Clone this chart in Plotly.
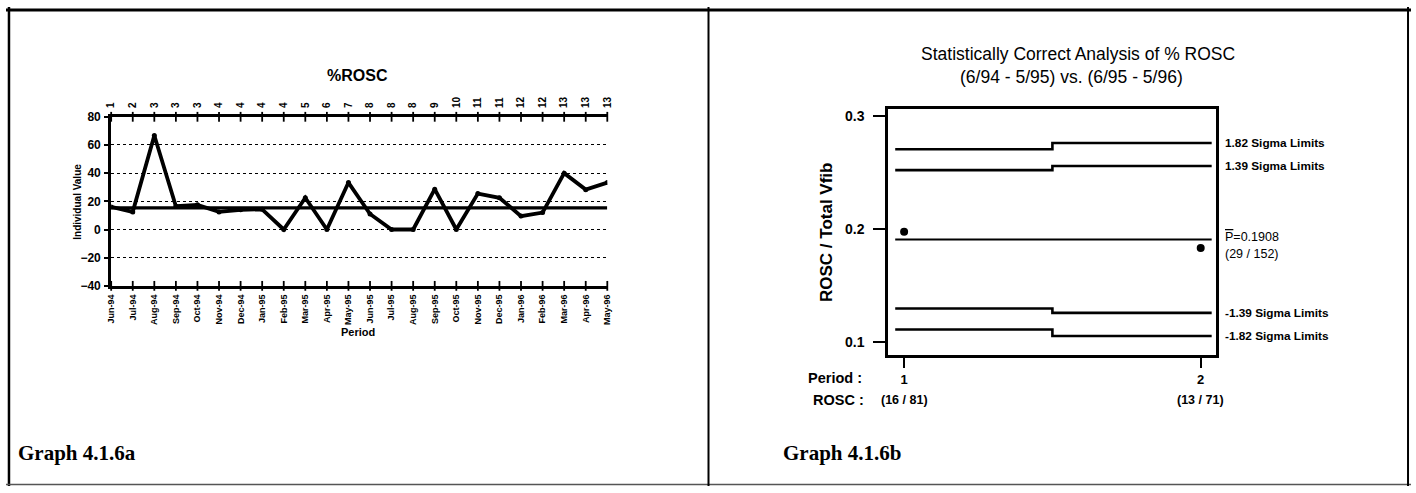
import plotly.graph_objects as go

W, H = 1416, 493

# ---- Graph 4.1.6a : monthly individual values of %ROSC ----
months = ["Jun-94", "Jul-94", "Aug-94", "Sep-94", "Oct-94", "Nov-94", "Dec-94",
          "Jan-95", "Feb-95", "Mar-95", "Apr-95", "May-95", "Jun-95", "Jul-95",
          "Aug-95", "Sep-95", "Oct-95", "Nov-95", "Dec-95", "Jan-96", "Feb-96",
          "Mar-96", "Apr-96", "May-96"]
period_numbers = ["1", "2", "3", "3", "3", "4", "4", "4", "4", "5", "6", "7",
                  "8", "8", "8", "9", "10", "11", "11", "12", "12", "13", "13", "13"]
rosc_pct = [16, 12.5, 66.7, 16.5, 17.5, 12.5, 14, 14.3, 0, 22.5, 0, 33.3,
            11, 0, 0, 28.6, 0, 25.5, 22.5, 9.5, 12, 40, 28.3, 33.3]
center_pct = 15.4
y_ticks_a = [-40, -20, 0, 20, 40, 60, 80]

# ---- Graph 4.1.6b : p-chart of the two yearly periods ----
periods = [1, 2]
period_labels = ["1", "2"]
rosc_counts = ["(16 / 81)", "(13 / 71)"]
p_observed = [0.1975, 0.1831]
p_bar = 0.1908
p_bar_counts = "(29 / 152)"
upper_182 = [0.2705, 0.2760]
upper_139 = [0.2520, 0.2557]
lower_139 = [0.1298, 0.1259]
lower_182 = [0.1112, 0.1055]
limit_sets = [(upper_182, "1.82 Sigma Limits"), (upper_139, "1.39 Sigma Limits"),
              (lower_139, "-1.39 Sigma Limits"), (lower_182, "-1.82 Sigma Limits")]
y_ticks_b = [0.1, 0.2, 0.3]


def fx(px):
    return px / W


def fy(px):
    return 1 - px / H


SANS = "Liberation Sans"
idx = list(range(len(months)))

fig = go.Figure()

# individual values
fig.add_trace(go.Scatter(x=idx, y=rosc_pct, mode="lines+markers",
                         line=dict(color="black", width=3.8),
                         marker=dict(color="black", size=5),
                         xaxis="x", yaxis="y", showlegend=False))
# center line
fig.add_trace(go.Scatter(x=[idx[0], idx[-1]], y=[center_pct, center_pct], mode="lines",
                         line=dict(color="black", width=3.2),
                         xaxis="x", yaxis="y", showlegend=False))
# cross-shaped tick marks on the bottom (x) and top (x2) axis lines
for yv, xa in ((y_ticks_a[0], "x"), (y_ticks_a[-1], "x2")):
    fig.add_trace(go.Scatter(x=idx, y=[yv] * len(idx), mode="markers",
                             marker=dict(symbol="line-ns", size=7,
                                         line=dict(color="black", width=1.8)),
                             cliponaxis=False, xaxis=xa, yaxis="y",
                             showlegend=False, hoverinfo="skip"))

# step control limits for the two periods
step_x = [0.97, 1.5, 2.037]
for vals, _ in limit_sets:
    fig.add_trace(go.Scatter(x=step_x, y=[vals[0], vals[1], vals[1]], mode="lines",
                             line=dict(color="black", width=2.6, shape="hv"),
                             xaxis="x3", yaxis="y3", showlegend=False))
fig.add_trace(go.Scatter(x=[step_x[0], step_x[-1]], y=[p_bar, p_bar], mode="lines",
                         line=dict(color="black", width=2),
                         xaxis="x3", yaxis="y3", showlegend=False))
fig.add_trace(go.Scatter(x=periods, y=p_observed, mode="markers",
                         marker=dict(color="black", size=8),
                         xaxis="x3", yaxis="y3", showlegend=False))

month_font = dict(family=SANS, size=9, color="black", weight="bold")
period_font = dict(family=SANS, size=10, color="black", weight="bold")

fig.update_layout(
    width=W, height=H,
    margin=dict(l=0, r=0, t=0, b=0),
    paper_bgcolor="white", plot_bgcolor="rgba(0,0,0,0)",
    font=dict(family=SANS, color="black"),
    xaxis=dict(domain=[fx(106), fx(606)], range=[0, 23], anchor="y",
               tickmode="array", tickvals=idx, ticktext=months, tickangle=-90,
               tickfont=month_font, ticks="", showline=True, linecolor="black",
               linewidth=3, showgrid=False, zeroline=False, ticklabelstandoff=2),
    xaxis2=dict(overlaying="x", side="top", range=[0, 23], anchor="y",
                tickmode="array", tickvals=idx, ticktext=period_numbers,
                tickangle=-90, tickfont=period_font, ticks="", showline=True,
                linecolor="black", linewidth=2.5, showgrid=False, zeroline=False,
                ticklabelstandoff=4),
    yaxis=dict(domain=[fy(287), fy(113)], range=[-40, 80], anchor="x",
               tickmode="array", tickvals=y_ticks_a,
               tickfont=dict(family=SANS, size=12, color="black", weight="bold"),
               ticks="outside", ticklen=4, tickwidth=2, tickcolor="black",
               showline=True, linecolor="black", linewidth=3,
               showgrid=True, gridcolor="black", gridwidth=1.3, griddash="dot",
               zeroline=False, ticklabelstandoff=1),
    xaxis3=dict(domain=[fx(889), fx(1219)], range=[0.946, 2.05], anchor="y3",
                tickmode="array", tickvals=periods, ticktext=period_labels,
                tickfont=dict(family=SANS, size=13, color="black", weight="bold"),
                ticks="outside", ticklen=10, tickwidth=2, tickcolor="black",
                showline=True, mirror=True, linecolor="black", linewidth=2.5,
                showgrid=False, zeroline=False, ticklabelstandoff=1),
    yaxis3=dict(domain=[fy(358), fy(105)], range=[0.0888, 0.306], anchor="x3",
                tickmode="array", tickvals=y_ticks_b,
                ticktext=[f"{v:.1f}" for v in y_ticks_b],
                tickfont=dict(family=SANS, size=14, color="black", weight="bold"),
                ticks="outside", ticklen=12, tickwidth=2, tickcolor="black",
                showline=True, mirror=True, linecolor="black", linewidth=2.5,
                showgrid=False, zeroline=False, ticklabelstandoff=6),
)

ann = []


def text(x, y, s, size, bold=False, family=SANS, angle=0, xanchor="center",
         xref="paper", yref="paper", yshift=0):
    ann.append(dict(x=x, y=y, xref=xref, yref=yref, text=s, showarrow=False,
                    xanchor=xanchor, yanchor="middle", textangle=angle,
                    yshift=yshift, borderpad=0,
                    font=dict(family=family, size=size, color="black",
                              weight="bold" if bold else "normal")))


# left panel texts
text(fx(354), fy(70), "%ROSC", 16, bold=True)
text(fx(355), fy(335), "Period", 11, bold=True)
text(fx(72), fy(200), "Individual Value", 10, bold=True, angle=-90)
text(fx(11), fy(459), "Graph 4.1.6a", 21, bold=True, family="Liberation Serif",
     xanchor="left")

# right panel texts
text(fx(1080), fy(48), "Statistically Correct Analysis of % ROSC", 17.5)
text(fx(1074), fy(72), "(6/94 - 5/95) vs. (6/95 - 5/96)", 17.5)
text(fx(827), fy(232), "ROSC / Total Vfib", 17, bold=True, angle=-90)
for vals, label in limit_sets:
    text(fx(1228), vals[1], label, 11.8, bold=True, xanchor="left", yref="y3")
text(fx(1228), p_bar,
     "<span style='text-decoration:overline'>P</span>=0.1908", 12.5,
     xanchor="left", yref="y3", yshift=2)
text(fx(1228), p_bar, p_bar_counts, 12.5, xanchor="left", yref="y3", yshift=-15)
text(fx(835), fy(382), "Period :", 14.5, bold=True)
text(fx(839), fy(405), "ROSC :", 14.5, bold=True)
for p, c in zip(periods, rosc_counts):
    text(p, fy(405), c, 12.5, bold=True, xref="x3")
text(fx(782), fy(459), "Graph 4.1.6b", 21, bold=True, family="Liberation Serif",
     xanchor="left")

fig.update_layout(annotations=ann)

# panel frame lines
frame = [
    (0, 3, W, 3, 3, "black"),
    (3, 0, 3, H, 2.5, "black"),
    (0, 491.5, W, 491.5, 1.5, "#555555"),
    (708, 0, 708, H, 2, "black"),
    (1413, 0, 1413, H, 2, "black"),
]
for x0, y0, x1, y1, w, c in frame:
    fig.add_shape(type="line", xref="paper", yref="paper",
                  x0=fx(x0), y0=fy(y0), x1=fx(x1), y1=fy(y1),
                  line=dict(color=c, width=w))

fig.write_html("out.html")
